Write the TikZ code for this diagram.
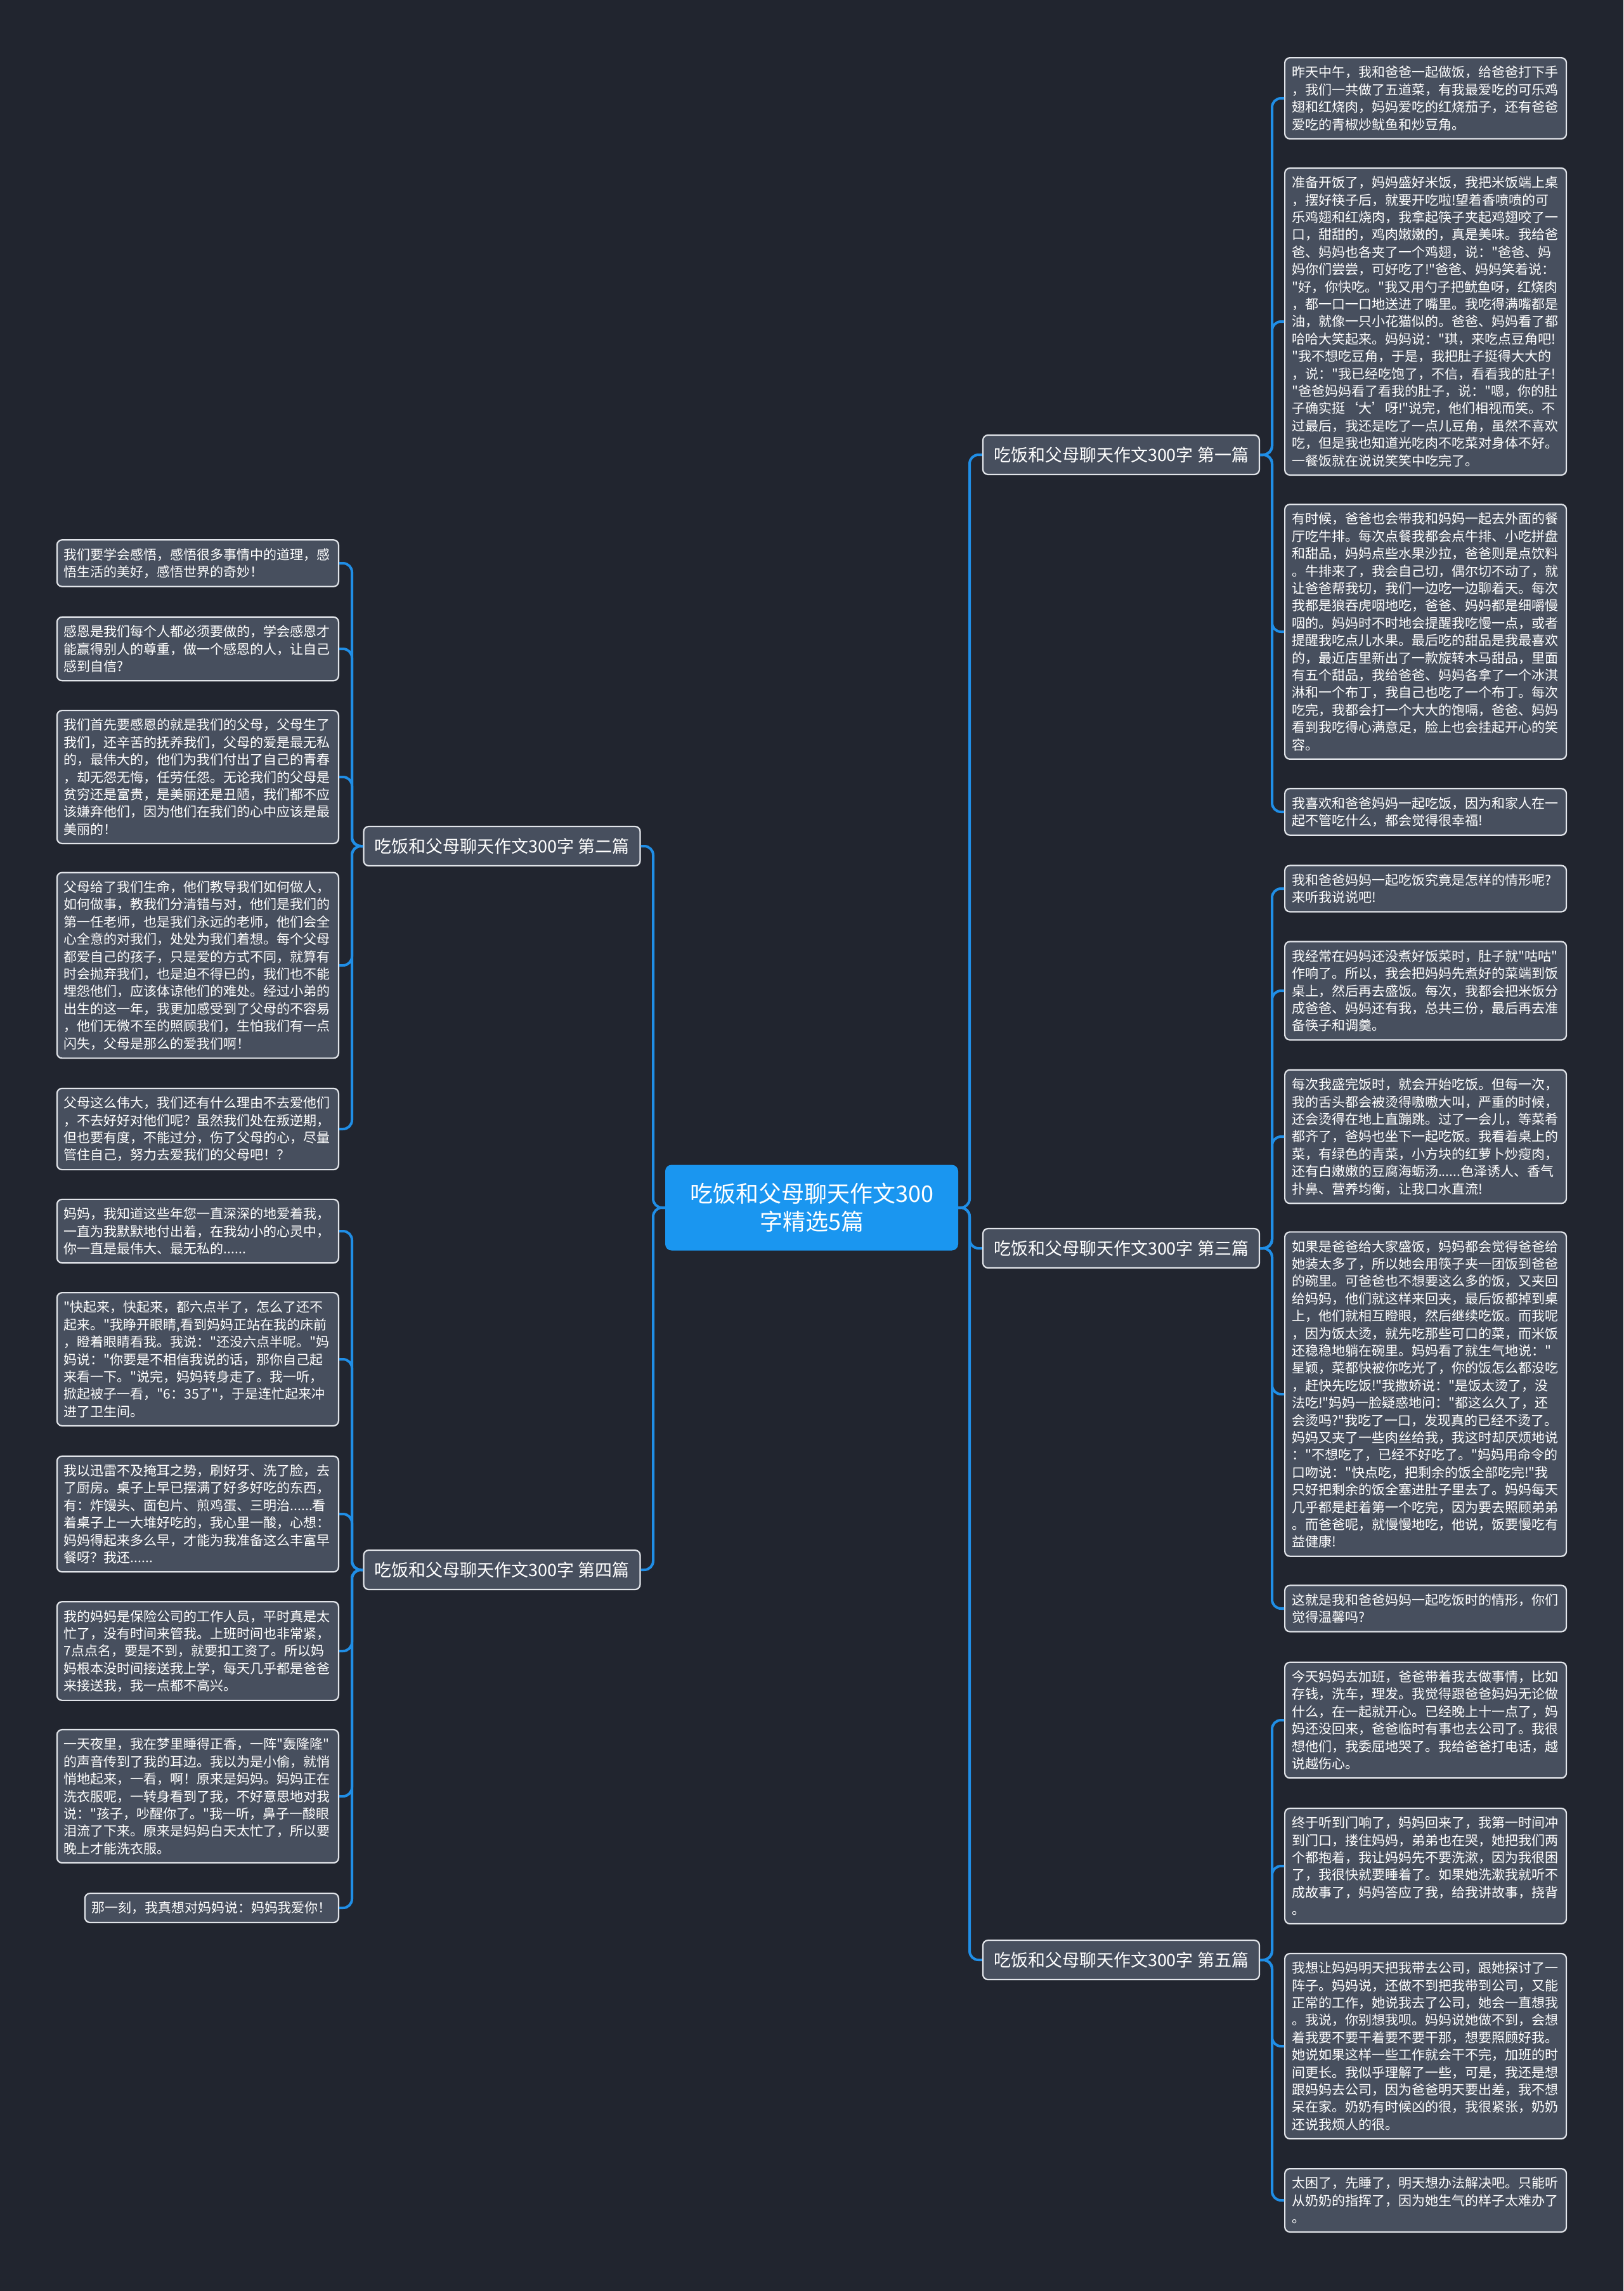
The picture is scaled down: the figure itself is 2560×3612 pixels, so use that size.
\documentclass[tikz,border=0pt]{standalone}
\usepackage{fontspec}
\setmainfont{Noto Sans CJK SC}[Ligatures=TeXOff]
\definecolor{bgc}{RGB}{33,37,47}
\definecolor{leafc}{RGB}{71,79,94}
\definecolor{bordc}{RGB}{226,229,234}
\definecolor{centc}{RGB}{26,150,240}
\definecolor{linec}{RGB}{32,142,230}
\begin{document}
\begin{tikzpicture}[x=1pt,y=-1pt,
  leafbase/.style={draw=bordc, line width=2.2pt, fill=leafc, rounded corners=8pt, text=white,
    font=\fontsize{21}{27.4}\selectfont, align=left, inner xsep=11pt, inner ysep=13pt},
  leaf/.style={leafbase, text width=422pt},
  branch/.style={draw=bordc, line width=2.2pt, fill=leafc, rounded corners=8pt, text=white,
    font=\fontsize{27}{32}\selectfont, minimum width=436pt, minimum height=62pt, inner sep=4pt},
  centre/.style={fill=centc, rounded corners=10pt, text=white, font=\fontsize{36}{44}\selectfont,
    align=center, minimum width=462pt, minimum height=135pt},
  conn/.style={draw=linec, line width=4pt, rounded corners=14pt}]
\fill[bgc] (0,0) rectangle (2560,3612);
\useasboundingbox (0,0) rectangle (2560,3612);

% centre and branches
\node[centre] (c) at (1280,1904) {吃饭和父母聊天作文300\\字精选5篇};
\node[branch] (b1) at (1768,717) {吃饭和父母聊天作文300字 第一篇};
\node[branch] (b3) at (1768,1968) {吃饭和父母聊天作文300字 第三篇};
\node[branch] (b5) at (1768,3090) {吃饭和父母聊天作文300字 第五篇};
\node[branch] (b2) at (791.5,1334) {吃饭和父母聊天作文300字 第二篇};
\node[branch] (b4) at (791.5,2475) {吃饭和父母聊天作文300字 第四篇};

% right leaves
\node[leaf, anchor=west] (r1) at (2025,155) {昨天中午，我和爸爸一起做饭，给爸爸打下手\\，我们一共做了五道菜，有我最爱吃的可乐鸡\\翅和红烧肉，妈妈爱吃的红烧茄子，还有爸爸\\爱吃的青椒炒鱿鱼和炒豆角。};
\node[leaf, anchor=west] (r2) at (2025,507) {准备开饭了，妈妈盛好米饭，我把米饭端上桌\\，摆好筷子后，就要开吃啦!望着香喷喷的可\\乐鸡翅和红烧肉，我拿起筷子夹起鸡翅咬了一\\口，甜甜的，鸡肉嫩嫩的，真是美味。我给爸\\爸、妈妈也各夹了一个鸡翅，说："爸爸、妈\\妈你们尝尝，可好吃了!"爸爸、妈妈笑着说：\\"好，你快吃。"我又用勺子把鱿鱼呀，红烧肉\\，都一口一口地送进了嘴里。我吃得满嘴都是\\油，就像一只小花猫似的。爸爸、妈妈看了都\\哈哈大笑起来。妈妈说："琪，来吃点豆角吧!\\"我不想吃豆角，于是，我把肚子挺得大大的\\，说："我已经吃饱了，不信，看看我的肚子!\\"爸爸妈妈看了看我的肚子，说："嗯，你的肚\\子确实挺‘大’呀!"说完，他们相视而笑。不\\过最后，我还是吃了一点儿豆角，虽然不喜欢\\吃，但是我也知道光吃肉不吃菜对身体不好。\\一餐饭就在说说笑笑中吃完了。};
\node[leaf, anchor=west] (r3) at (2025,996) {有时候，爸爸也会带我和妈妈一起去外面的餐\\厅吃牛排。每次点餐我都会点牛排、小吃拼盘\\和甜品，妈妈点些水果沙拉，爸爸则是点饮料\\。牛排来了，我会自己切，偶尔切不动了，就\\让爸爸帮我切，我们一边吃一边聊着天。每次\\我都是狼吞虎咽地吃，爸爸、妈妈都是细嚼慢\\咽的。妈妈时不时地会提醒我吃慢一点，或者\\提醒我吃点儿水果。最后吃的甜品是我最喜欢\\的，最近店里新出了一款旋转木马甜品，里面\\有五个甜品，我给爸爸、妈妈各拿了一个冰淇\\淋和一个布丁，我自己也吃了一个布丁。每次\\吃完，我都会打一个大大的饱嗝，爸爸、妈妈\\看到我吃得心满意足，脸上也会挂起开心的笑\\容。};
\node[leaf, anchor=west] (r4) at (2025,1280) {我喜欢和爸爸妈妈一起吃饭，因为和家人在一\\起不管吃什么，都会觉得很幸福!};
\node[leaf, anchor=west] (r5) at (2025,1401) {我和爸爸妈妈一起吃饭究竟是怎样的情形呢?\\来听我说说吧!};
\node[leaf, anchor=west] (r6) at (2025,1562) {我经常在妈妈还没煮好饭菜时，肚子就"咕咕"\\作响了。所以，我会把妈妈先煮好的菜端到饭\\桌上，然后再去盛饭。每次，我都会把米饭分\\成爸爸、妈妈还有我，总共三份，最后再去准\\备筷子和调羹。};
\node[leaf, anchor=west] (r7) at (2025,1792) {每次我盛完饭时，就会开始吃饭。但每一次，\\我的舌头都会被烫得嗷嗷大叫，严重的时候，\\还会烫得在地上直蹦跳。过了一会儿，等菜肴\\都齐了，爸妈也坐下一起吃饭。我看着桌上的\\菜，有绿色的青菜，小方块的红萝卜炒瘦肉，\\还有白嫩嫩的豆腐海蛎汤......色泽诱人、香气\\扑鼻、营养均衡，让我口水直流!};
\node[leaf, anchor=west] (r8) at (2025,2198) {如果是爸爸给大家盛饭，妈妈都会觉得爸爸给\\她装太多了，所以她会用筷子夹一团饭到爸爸\\的碗里。可爸爸也不想要这么多的饭，又夹回\\给妈妈，他们就这样来回夹，最后饭都掉到桌\\上，他们就相互瞪眼，然后继续吃饭。而我呢\\，因为饭太烫，就先吃那些可口的菜，而米饭\\还稳稳地躺在碗里。妈妈看了就生气地说："\\星颖，菜都快被你吃光了，你的饭怎么都没吃\\，赶快先吃饭!"我撒娇说："是饭太烫了，没\\法吃!"妈妈一脸疑惑地问："都这么久了，还\\会烫吗?"我吃了一口，发现真的已经不烫了。\\妈妈又夹了一些肉丝给我，我这时却厌烦地说\\："不想吃了，已经不好吃了。"妈妈用命令的\\口吻说："快点吃，把剩余的饭全部吃完!"我\\只好把剩余的饭全塞进肚子里去了。妈妈每天\\几乎都是赶着第一个吃完，因为要去照顾弟弟\\。而爸爸呢，就慢慢地吃，他说，饭要慢吃有\\益健康!};
\node[leaf, anchor=west] (r9) at (2025,2536) {这就是我和爸爸妈妈一起吃饭时的情形，你们\\觉得温馨吗?};
\node[leaf, anchor=west] (r10) at (2025,2712) {今天妈妈去加班，爸爸带着我去做事情，比如\\存钱，洗车，理发。我觉得跟爸爸妈妈无论做\\什么，在一起就开心。已经晚上十一点了，妈\\妈还没回来，爸爸临时有事也去公司了。我很\\想他们，我委屈地哭了。我给爸爸打电话，越\\说越伤心。};
\node[leaf, anchor=west] (r11) at (2025,2942) {终于听到门响了，妈妈回来了，我第一时间冲\\到门口，搂住妈妈，弟弟也在哭，她把我们两\\个都抱着，我让妈妈先不要洗漱，因为我很困\\了，我很快就要睡着了。如果她洗漱我就听不\\成故事了，妈妈答应了我，给我讲故事，挠背\\。};
\node[leaf, anchor=west] (r12) at (2025,3226) {我想让妈妈明天把我带去公司，跟她探讨了一\\阵子。妈妈说，还做不到把我带到公司，又能\\正常的工作，她说我去了公司，她会一直想我\\。我说，你别想我呗。妈妈说她做不到，会想\\着我要不要干着要不要干那，想要照顾好我。\\她说如果这样一些工作就会干不完，加班的时\\间更长。我似乎理解了一些，可是，我还是想\\跟妈妈去公司，因为爸爸明天要出差，我不想\\呆在家。奶奶有时候凶的很，我很紧张，奶奶\\还说我烦人的很。};
\node[leaf, anchor=west] (r13) at (2025,3469) {太困了，先睡了，明天想办法解决吧。只能听\\从奶奶的指挥了，因为她生气的样子太难办了\\。};

% left leaves
\node[leaf, anchor=east] (l1) at (535,888) {我们要学会感悟，感悟很多事情中的道理，感\\悟生活的美好，感悟世界的奇妙！};
\node[leaf, anchor=east] (l2) at (535,1023) {感恩是我们每个人都必须要做的，学会感恩才\\能赢得别人的尊重，做一个感恩的人，让自己\\感到自信?};
\node[leaf, anchor=east] (l3) at (535,1225) {我们首先要感恩的就是我们的父母，父母生了\\我们，还辛苦的抚养我们，父母的爱是最无私\\的，最伟大的，他们为我们付出了自己的青春\\，却无怨无悔，任劳任怨。无论我们的父母是\\贫穷还是富贵，是美丽还是丑陋，我们都不应\\该嫌弃他们，因为他们在我们的心中应该是最\\美丽的！};
\node[leaf, anchor=east] (l4) at (535,1522) {父母给了我们生命，他们教导我们如何做人，\\如何做事，教我们分清错与对，他们是我们的\\第一任老师，也是我们永远的老师，他们会全\\心全意的对我们，处处为我们着想。每个父母\\都爱自己的孩子，只是爱的方式不同，就算有\\时会抛弃我们，也是迫不得已的，我们也不能\\埋怨他们，应该体谅他们的难处。经过小弟的\\出生的这一年，我更加感受到了父母的不容易\\，他们无微不至的照顾我们，生怕我们有一点\\闪失，父母是那么的爱我们啊！};
\node[leaf, anchor=east] (l5) at (535,1780) {父母这么伟大，我们还有什么理由不去爱他们\\，不去好好对他们呢？虽然我们处在叛逆期，\\但也要有度，不能过分，伤了父母的心，尽量\\管住自己，努力去爱我们的父母吧！？};
\node[leaf, anchor=east] (l6) at (535,1941) {妈妈，我知道这些年您一直深深的地爱着我，\\一直为我默默地付出着，在我幼小的心灵中，\\你一直是最伟大、最无私的......};
\node[leaf, anchor=east] (l7) at (535,2143) {"快起来，快起来，都六点半了，怎么了还不\\起来。"我睁开眼睛,看到妈妈正站在我的床前\\，瞪着眼睛看我。我说："还没六点半呢。"妈\\妈说："你要是不相信我说的话，那你自己起\\来看一下。"说完，妈妈转身走了。我一听，\\掀起被子一看，"6：35了"，于是连忙起来冲\\进了卫生间。};
\node[leaf, anchor=east] (l8) at (535,2387) {我以迅雷不及掩耳之势，刷好牙、洗了脸，去\\了厨房。桌子上早已摆满了好多好吃的东西，\\有：炸馒头、面包片、煎鸡蛋、三明治......看\\着桌子上一大堆好吃的，我心里一酸，心想：\\妈妈得起来多么早，才能为我准备这么丰富早\\餐呀？我还......};
\node[leaf, anchor=east] (l9) at (535,2603) {我的妈妈是保险公司的工作人员，平时真是太\\忙了，没有时间来管我。上班时间也非常紧，\\7点点名，要是不到，就要扣工资了。所以妈\\妈根本没时间接送我上学，每天几乎都是爸爸\\来接送我，我一点都不高兴。};
\node[leaf, anchor=east] (l10) at (535,2832) {一天夜里，我在梦里睡得正香，一阵"轰隆隆"\\的声音传到了我的耳边。我以为是小偷，就悄\\悄地起来，一看，啊！原来是妈妈。妈妈正在\\洗衣服呢，一转身看到了我，不好意思地对我\\说："孩子，吵醒你了。"我一听，鼻子一酸眼\\泪流了下来。原来是妈妈白天太忙了，所以要\\晚上才能洗衣服。};
\node[leafbase, anchor=east] (l11) at (535,3008) {那一刻，我真想对妈妈说：妈妈我爱你！};

% centre connectors
\foreach \b in {b1,b3,b5}{
  \draw[conn] (c.east) -- (1529,1904) |- (\b.west);
}
\foreach \b in {b2,b4}{
  \draw[conn] (c.west) -- (1030,1904) |- (\b.east);
}
% right leaf connectors
\foreach \l in {r1,r2,r3,r4}{ \draw[conn] (b1.east) -- (2006,717) |- (\l.west); }
\foreach \l in {r5,r6,r7,r8,r9}{ \draw[conn] (b3.east) -- (2006,1968) |- (\l.west); }
\foreach \l in {r10,r11,r12,r13}{ \draw[conn] (b5.east) -- (2006,3090) |- (\l.west); }
% left leaf connectors
\foreach \l in {l1,l2,l3,l4,l5}{ \draw[conn] (b2.west) -- (555,1334) |- (\l.east); }
\foreach \l in {l6,l7,l8,l9,l10,l11}{ \draw[conn] (b4.west) -- (555,2475) |- (\l.east); }
\end{tikzpicture}
\end{document}
